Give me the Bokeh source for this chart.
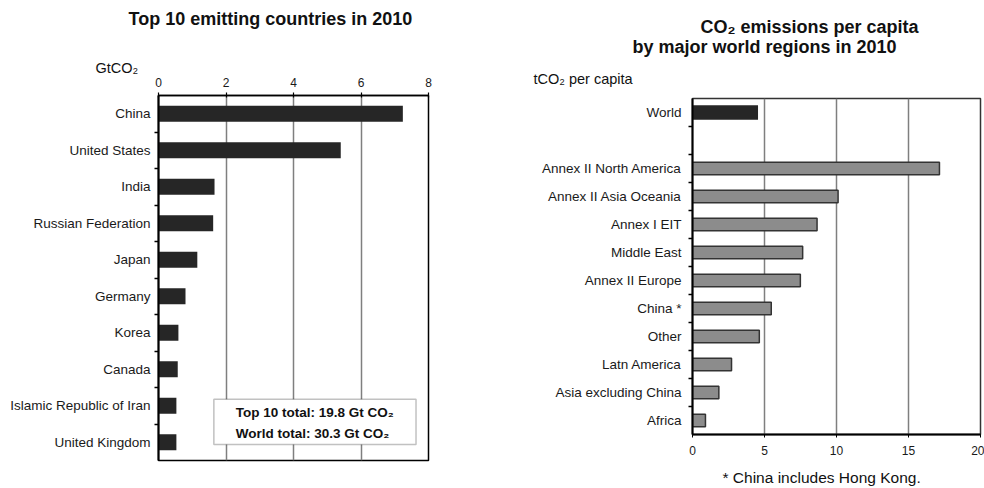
from bokeh.plotting import figure
from bokeh.models import Range1d, FixedTicker, Label, BoxAnnotation, Title
from bokeh.layouts import row, column
from bokeh.embed import file_html
from bokeh.resources import INLINE

# ---------------- data ----------------
countries = ["China", "United States", "India", "Russian Federation", "Japan",
             "Germany", "Korea", "Canada", "Islamic Republic of Iran", "United Kingdom"]
country_gtco2 = [7.24, 5.40, 1.66, 1.62, 1.15, 0.80, 0.59, 0.57, 0.53, 0.53]
left_x_ticks = [0, 2, 4, 6, 8]

regions = ["World", "Annex II North America", "Annex II Asia Oceania", "Annex I EIT",
           "Middle East", "Annex II Europe", "China *", "Other", "Latn America",
           "Asia excluding China", "Africa"]
region_tco2 = [4.55, 17.15, 10.11, 8.65, 7.65, 7.49, 5.47, 4.64, 2.71, 1.83, 0.90]
right_x_ticks = [0, 5, 10, 15, 20]

top10_total = 19.8
world_total = 30.3

FONT = "Liberation Sans"
DARK = "#262626"
GRID = "#7f7f7f"
TXT = "#1a1a1a"


def add_title(p, text, place, size, bold, offset, standoff):
    p.add_layout(Title(text=text, align="left", offset=offset, standoff=standoff,
                       text_font=FONT, text_font_size=size,
                       text_font_style="bold" if bold else "normal",
                       text_color="#111111"), place)


def add_gap(p, place, standoff):
    # blank panel used only as vertical spacing between stacked titles
    p.add_layout(Title(text=" ", standoff=standoff, text_font_size="1px"), place)


# ---------------- left panel ----------------
ypos_l = list(range(len(countries)))
p1 = figure(width=480, height=488, x_range=Range1d(0, 8),
            y_range=Range1d(len(countries) - 0.5, -0.5), title=None,
            x_axis_location="above", output_backend="svg", toolbar_location=None,
            min_border_left=158, min_border_right=52, min_border_top=95, min_border_bottom=28)
p1.hbar(y=ypos_l, left=0, right=country_gtco2, height=0.44,
        fill_color=DARK, line_color=None)

p1.xaxis.ticker = FixedTicker(ticks=left_x_ticks)
p1.xgrid.ticker = FixedTicker(ticks=left_x_ticks)
p1.xgrid.grid_line_color = GRID
p1.xgrid.grid_line_width = 1.5
p1.ygrid.visible = False
p1.xaxis.axis_line_width = 1.5
p1.xaxis.axis_line_color = "black"
p1.xaxis.major_tick_out = 3
p1.xaxis.major_tick_in = 2
p1.xaxis.major_tick_line_width = 1.2
p1.xaxis.minor_tick_line_color = None
p1.xaxis.major_label_standoff = 6
p1.xaxis.major_label_text_font = FONT
p1.xaxis.major_label_text_font_size = "12px"
p1.xaxis.major_label_text_color = TXT

p1.yaxis.ticker = FixedTicker(ticks=ypos_l, minor_ticks=[i + 0.5 for i in ypos_l[:-1]])
p1.yaxis.major_label_overrides = {i: c for i, c in zip(ypos_l, countries)}
p1.yaxis.axis_line_width = 2
p1.yaxis.axis_line_color = "black"
p1.yaxis.major_tick_line_color = None
p1.yaxis.major_tick_out = 0
p1.yaxis.major_tick_in = 0
p1.yaxis.minor_tick_out = 4
p1.yaxis.minor_tick_in = 0
p1.yaxis.minor_tick_line_color = "black"
p1.yaxis.minor_tick_line_width = 1.5
p1.yaxis.major_label_standoff = 4
p1.yaxis.major_label_text_font = FONT
p1.yaxis.major_label_text_font_size = "13.5px"
p1.yaxis.major_label_text_color = TXT

p1.outline_line_color = "black"
p1.outline_line_width = 1.5

p1.add_layout(BoxAnnotation(left=1.64, right=7.63, top=7.82, bottom=9.06,
                            fill_color="white", fill_alpha=1.0,
                            line_color="#333333", line_width=1.5))
p1.add_layout(Label(x=2.29, y=8.47,
                    text=f"Top 10 total:  {top10_total} Gt CO\u2082\nWorld total:   {world_total} Gt CO\u2082",
                    text_font=FONT, text_font_size="13.5px", text_font_style="bold",
                    text_color="#111111", text_align="left", text_baseline="middle",
                    text_line_height=1.35))

add_title(p1, "GtCO\u2082", "above", "14.5px", False, -63, -3)
add_gap(p1, "above", 28)
add_title(p1, "Top 10 emitting countries in 2010", "above", "18px", True, -30, 0)

# ---------------- right panel ----------------
slot_r = [0] + [i + 1 for i in range(1, len(regions))]
p2 = figure(width=504, height=488, x_range=Range1d(0, 20),
            y_range=Range1d(len(regions) + 0.5, -0.5), title=None,
            output_backend="svg", toolbar_location=None,
            min_border_left=212, min_border_right=4, min_border_top=98, min_border_bottom=54)
p2.hbar(y=slot_r[:1], left=0, right=region_tco2[:1], height=0.52,
        fill_color=DARK, line_color=None)
p2.hbar(y=slot_r[1:], left=0, right=region_tco2[1:], height=0.45,
        fill_color="#8c8c8c", line_color="#333333", line_width=1.5)

p2.xaxis.ticker = FixedTicker(ticks=right_x_ticks)
p2.xgrid.ticker = FixedTicker(ticks=right_x_ticks)
p2.xgrid.grid_line_color = GRID
p2.xgrid.grid_line_width = 1.5
p2.ygrid.visible = False
p2.xaxis.axis_line_width = 2
p2.xaxis.axis_line_color = "black"
p2.xaxis.major_tick_out = 3
p2.xaxis.major_tick_in = 0
p2.xaxis.minor_tick_line_color = None
p2.xaxis.major_label_standoff = 8
p2.xaxis.major_label_text_font = FONT
p2.xaxis.major_label_text_font_size = "12px"
p2.xaxis.major_label_text_color = TXT

p2.yaxis.ticker = FixedTicker(ticks=slot_r,
                              minor_ticks=[i + 0.5 for i in range(len(regions))])
p2.yaxis.major_label_overrides = {s: r for s, r in zip(slot_r, regions)}
p2.yaxis.axis_line_width = 2
p2.yaxis.axis_line_color = "black"
p2.yaxis.major_tick_line_color = None
p2.yaxis.major_tick_out = 0
p2.yaxis.major_tick_in = 0
p2.yaxis.minor_tick_out = 4
p2.yaxis.minor_tick_in = 0
p2.yaxis.minor_tick_line_color = "black"
p2.yaxis.minor_tick_line_width = 1.5
p2.yaxis.major_label_standoff = 7
p2.yaxis.major_label_text_font = FONT
p2.yaxis.major_label_text_font_size = "13.5px"
p2.yaxis.major_label_text_color = TXT

p2.outline_line_color = "#333333"
p2.outline_line_width = 1.5

add_title(p2, "tCO\u2082 per capita", "above", "14.5px", False, -159, 23)
add_title(p2, "by major world regions in 2010", "above", "18px", True, -60, 1)
add_title(p2, "CO\u2082 emissions per capita", "above", "18px", True, 8, -4)
add_gap(p2, "below", 6)
add_title(p2, "* China includes Hong Kong.", "below", "15.5px", False, 30, 0)

layout = row(column(p1), column(p2))
open("out.html", "w").write(file_html(layout, INLINE))
